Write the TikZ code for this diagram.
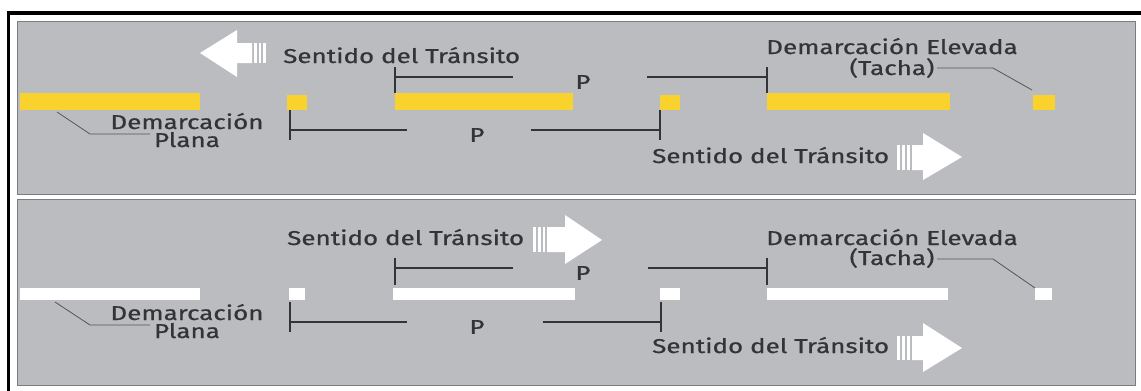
\documentclass[tikz,border=0pt]{standalone}
\usepackage{fontspec}
\setmainfont{Fira Sans}
\newfontfamily\labelfont{Fira Sans}[FakeStretch=1.3, FakeBold=0.7]
\definecolor{panelfill}{RGB}{187,188,191}
\definecolor{panelline}{RGB}{125,125,128}
\definecolor{ink}{RGB}{52,52,56}
\definecolor{leadline}{RGB}{85,85,88}
\definecolor{yellowmark}{RGB}{250,210,45}
\tikzset{
  lab/.style={font=\labelfont\fontsize{20}{20}\selectfont, text=ink, inner sep=0pt},
  dimline/.style={draw=ink, line width=1.1pt},
  leader/.style={draw=leadline, line width=0.8pt},
  panel/.style={fill=panelfill, draw=panelline, line width=0.8pt},
  arrowfill/.style={fill=white},
}
\begin{document}
\begin{tikzpicture}[x=1pt,y=-1pt]
\useasboundingbox (0,0) rectangle (1141,391);
\fill[white] (0,0) rectangle (1141,391);
% outer frame (top and left edges)
\fill[black] (7,11) rectangle (1141,15);
\fill[black] (7,11) rectangle (10,391);
% the two panels
\path[panel] (17,21) rectangle (1135,194);
\path[panel] (17,199) rectangle (1135,385);

% ================= upper panel =================
% direction arrow pointing left
\path[arrowfill] (200,53) -- (237,30) -- (237,43) -- (252,43) -- (252,63)
  -- (237,63) -- (237,77) -- cycle;
\path[arrowfill] (254,43) rectangle (257,63);
\path[arrowfill] (259,43) rectangle (261,63);
\path[arrowfill] (263,43) rectangle (266,63);
\node[lab, anchor=base west] (dirA) at (283,63) {Sentido del Tránsito};

% yellow markings
\fill[yellowmark] (20,93) rectangle (200,110);
\fill[yellowmark] (287,95) rectangle (307,110);
\fill[yellowmark] (395,93) rectangle (573,110);
\fill[yellowmark] (660,95) rectangle (680,110);
\fill[yellowmark] (767,93) rectangle (950,110);
\fill[yellowmark] (1033,95) rectangle (1055,110);

% upper spacing dimension
\node[lab] (pA) at (583,82) {P};
\coordinate (a1) at (395,77);
\coordinate (a2) at (767,77);
\draw[dimline] (395,67) -- (395,93);
\draw[dimline] (767,67) -- (767,93);
\draw[dimline] (a1) -- ([xshift=-62pt]pA.west |- a1);
\draw[dimline] ([xshift=56pt]pA.east |- a2) -- (a2);

% lower spacing dimension
\node[lab] (pB) at (477,135) {P};
\coordinate (b1) at (290,130);
\coordinate (b2) at (660,130);
\draw[dimline] (290,110) -- (290,140);
\draw[dimline] (660,110) -- (660,140);
\draw[dimline] (b1) -- ([xshift=-62pt]pB.west |- b1);
\draw[dimline] ([xshift=46pt]pB.east |- b2) -- (b2);

% flat marking label (base = baseline of the last line)
\node[lab, align=center, anchor=base] (planaA) at (187,147) {Demarcación\\[-2pt]Plana};
\coordinate (planaAbar) at (57,112);
\coordinate (planaAknee) at (90,134);
\coordinate (planaAend) at (150,134);
\draw[leader] (planaAbar) -- (planaAknee) -- (planaAend);

% raised marking label
\node[lab, align=center, anchor=base] (elevA) at (892,75) {Demarcación Elevada\\[1pt](Tacha)};
\coordinate (elevAstart) at (937,68);
\coordinate (elevAknee) at (993,68);
\coordinate (elevAbar) at (1032,90);
\draw[leader] (elevAstart) -- (elevAknee) -- (elevAbar);

% opposite direction
\node[lab, anchor=base west] (dirB) at (652,163) {Sentido del Tránsito};
\path[arrowfill] (897,145) rectangle (900,170);
\path[arrowfill] (902,145) rectangle (905,170);
\path[arrowfill] (907,145) rectangle (910,170);
\path[arrowfill] (912,145) -- (923,145) -- (923,133) -- (962,157)
  -- (923,180) -- (923,170) -- (912,170) -- cycle;

% ================= lower panel =================
\node[lab, anchor=base west] (dirC) at (287,245) {Sentido del Tránsito};
\path[arrowfill] (533,227) rectangle (536,252);
\path[arrowfill] (538,227) rectangle (541,252);
\path[arrowfill] (543,227) rectangle (545,252);
\path[arrowfill] (547,227) -- (565,227) -- (565,215) -- (602,240)
  -- (565,264) -- (565,252) -- (547,252) -- cycle;

% white markings
\fill[white] (20,288) rectangle (200,300);
\fill[white] (289,288) rectangle (305,300);
\fill[white] (393,288) rectangle (575,300);
\fill[white] (660,288) rectangle (680,300);
\fill[white] (767,288) rectangle (948,300);
\fill[white] (1035,288) rectangle (1052,300);

% upper spacing dimension
\node[lab] (pC) at (583,273) {P};
\coordinate (c1) at (395,268);
\coordinate (c2) at (767,268);
\draw[dimline] (395,258) -- (395,285);
\draw[dimline] (767,258) -- (767,285);
\draw[dimline] (c1) -- ([xshift=-62pt]pC.west |- c1);
\draw[dimline] ([xshift=57pt]pC.east |- c2) -- (c2);

% lower spacing dimension
\node[lab] (pD) at (477,327) {P};
\coordinate (d1) at (290,322);
\coordinate (d2) at (661,322);
\draw[dimline] (290,302) -- (290,332);
\draw[dimline] (661,302) -- (661,332);
\draw[dimline] (d1) -- ([xshift=-62pt]pD.west |- d1);
\draw[dimline] ([xshift=58pt]pD.east |- d2) -- (d2);

% flat marking label
\node[lab, align=center, anchor=base] (planaC) at (187,338) {Demarcación\\[-2pt]Plana};
\coordinate (planaCbar) at (55,302);
\coordinate (planaCknee) at (90,325);
\coordinate (planaCend) at (150,325);
\draw[leader] (planaCbar) -- (planaCknee) -- (planaCend);

% raised marking label
\node[lab, align=center, anchor=base] (elevC) at (892,265) {Demarcación Elevada\\(Tacha)};
\coordinate (elevCstart) at (937,259);
\coordinate (elevCknee) at (993,259);
\coordinate (elevCbar) at (1035,288);
\draw[leader] (elevCstart) -- (elevCknee) -- (elevCbar);

% opposite direction
\node[lab, anchor=base west] (dirD) at (652,353) {Sentido del Tránsito};
\path[arrowfill] (897,336) rectangle (900,360);
\path[arrowfill] (902,336) rectangle (905,360);
\path[arrowfill] (907,336) rectangle (910,360);
\path[arrowfill] (912,336) -- (923,336) -- (923,323) -- (962,348)
  -- (923,372) -- (923,360) -- (912,360) -- cycle;
\end{tikzpicture}
\end{document}
